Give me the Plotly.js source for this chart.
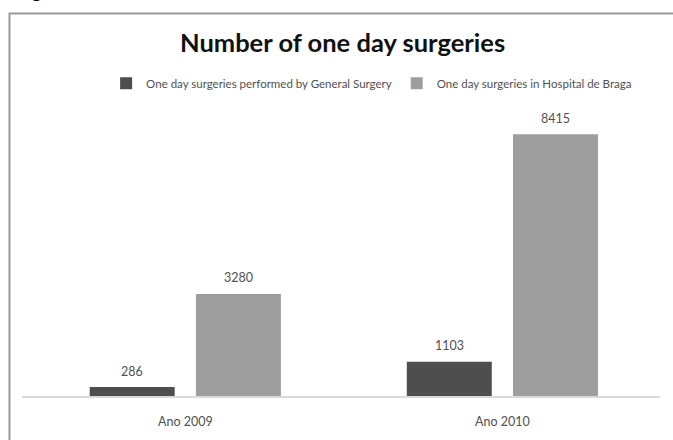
<!DOCTYPE html>
<html>
<head>
<meta charset="utf-8">
<script src="https://cdn.plot.ly/plotly-3.0.1.min.js"></script>
<style>html,body{margin:0;padding:0;background:#fff;}#chart{width:673px;height:440px;}</style>
</head>
<body>
<div id="chart"></div>
<script>
var categories = ['Ano 2009', 'Ano 2010'];
var seriesNames = ['One day surgeries performed by General Surgery', 'One day surgeries in Hospital de Braga'];
var generalSurgery = [286, 1103];
var hospitalBraga = [3280, 8415];
var seriesValues = [generalSurgery, hospitalBraga];
var seriesColors = ['#4e4e4e', '#9e9e9e'];
var labelShift = [-53, 53];

var traces = seriesValues.map(function (vals, i) {
  return {
    type: 'bar',
    name: seriesNames[i],
    x: categories,
    y: vals,
    marker: { color: seriesColors[i], line: { width: 0 } },
    hoverinfo: 'x+y'
  };
});

var annotations = [];
seriesValues.forEach(function (vals, i) {
  vals.forEach(function (v, j) {
    annotations.push({
      x: categories[j], y: v, xref: 'x', yref: 'y',
      text: String(v), showarrow: false,
      xshift: labelShift[i], yshift: 16, yanchor: 'middle',
      font: { family: 'Lato, sans-serif', size: 12.5, color: '#505050' }
    });
  });
});
annotations.push({
  xref: 'paper', yref: 'paper', x: -0.011, y: 1.262, xanchor: 'left', yanchor: 'bottom',
  text: '<b>Figure</b>', showarrow: false,
  font: { family: 'Lato, sans-serif', size: 18, color: '#000' }
});

var layout = {
  width: 673, height: 440,
  margin: { l: 22, r: 13, t: 85, b: 44 },
  paper_bgcolor: '#ffffff', plot_bgcolor: '#ffffff',
  title: {
    text: '<b>Number of one day surgeries</b>',
    x: 0.509, xanchor: 'center', y: 0.902, yanchor: 'middle',
    font: { family: 'Lato, sans-serif', size: 25.5, color: '#111' }
  },
  barmode: 'group', bargap: 0.33, bargroupgap: 0.2,
  showlegend: true,
  legend: {
    orientation: 'h', x: 0.548, xanchor: 'center', y: 1.006, yanchor: 'middle',
    font: { family: 'Lato, sans-serif', size: 11.5, color: '#505050' },
    bgcolor: 'rgba(0,0,0,0)', itemwidth: 30, traceorder: 'normal'
  },
  xaxis: {
    type: 'category', range: [-0.515, 1.497], showline: true, linecolor: '#d9d9d9', linewidth: 1.5,
    ticks: '', showgrid: false, zeroline: false, ticklabelstandoff: 13,
    tickfont: { family: 'Lato, sans-serif', size: 12.5, color: '#505050' }
  },
  yaxis: {
    range: [0, 10000], showgrid: false, zeroline: false, showticklabels: false, ticks: '', showline: false
  },
  shapes: [{
    type: 'rect', xref: 'paper', yref: 'paper', x0: -0.0196, x1: 1.2, y0: -0.4, y1: 1.2299,
    line: { color: '#999999', width: 2 }, fillcolor: 'rgba(0,0,0,0)', layer: 'below'
  }],
  annotations: annotations
};

Plotly.newPlot('chart', traces, layout, { displayModeBar: false, staticPlot: true });
</script>
</body>
</html>
